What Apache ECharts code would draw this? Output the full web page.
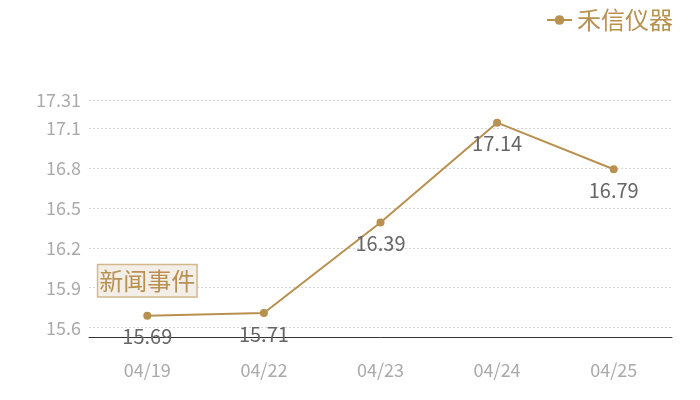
<!DOCTYPE html>
<html>
<head>
<meta charset="utf-8">
<script src="https://cdn.jsdelivr.net/npm/echarts@6/dist/echarts.min.js"></script>
<style>
  html, body { margin: 0; padding: 0; background: #fff; }
  #main { width: 700px; height: 400px; }
</style>
</head>
<body>
<div id="main"></div>
<script>
var dates = ['04/19', '04/22', '04/23', '04/24', '04/25'];
var prices = [15.69, 15.71, 16.39, 17.14, 16.79];
var yTicks = [15.6, 15.9, 16.2, 16.5, 16.8, 17.1, 17.31];
var seriesName = '禾信仪器';
var eventLabel = '新闻事件';

var gold = '#b8904f';
var chart = echarts.init(document.getElementById('main'));

// y 轴上下各留 1%
var yMin = +(Math.min.apply(null, prices) * 0.99).toFixed(2);
var yMax = +(Math.max.apply(null, prices) * 1.01).toFixed(2);

var option = {
    animation: false,
    textStyle: { fontFamily: 'Noto Sans CJK SC' },
    legend: {
        right: 22,
        top: 3,
        itemWidth: 25,
        itemHeight: 12,
        textStyle: { color: gold, fontSize: 24 },
        data: [seriesName]
    },
    grid: { left: 89, right: 28, top: 100, bottom: 63 },
    xAxis: {
        type: 'category',
        data: dates,
        axisLine: { lineStyle: { color: '#333' } },
        axisTick: { show: false },
        axisLabel: { color: '#aaa', fontSize: 18, margin: 24 }
    },
    yAxis: {
        type: 'value',
        min: yMin,
        max: yMax,
        axisLine: { show: false },
        axisTick: { show: false, customValues: yTicks },
        axisLabel: { color: '#aaa', fontSize: 18, customValues: yTicks },
        splitLine: { lineStyle: { color: '#d3d3d3', type: [2, 2] } }
    },
    series: [{
        name: seriesName,
        type: 'line',
        data: prices,
        symbol: 'circle',
        symbolSize: 8,
        itemStyle: { color: gold },
        lineStyle: { color: gold, width: 2 },
        label: {
            show: true,
            position: 'bottom',
            distance: 7,
            color: '#666',
            fontSize: 20
        },
        markPoint: {
            symbol: 'rect',
            symbolSize: 1,
            itemStyle: { color: 'transparent' },
            label: {
                show: true,
                formatter: eventLabel,
                color: gold,
                fontSize: 24,
                backgroundColor: '#f3efe8',
                borderColor: '#d2b88c',
                borderWidth: 1.5,
                padding: [4, 1, 3, 1],
                offset: [0, -35]
            },
            data: [{ coord: [0, prices[0]] }]
        }
    }]
};
chart.setOption(option);
</script>
</body>
</html>
